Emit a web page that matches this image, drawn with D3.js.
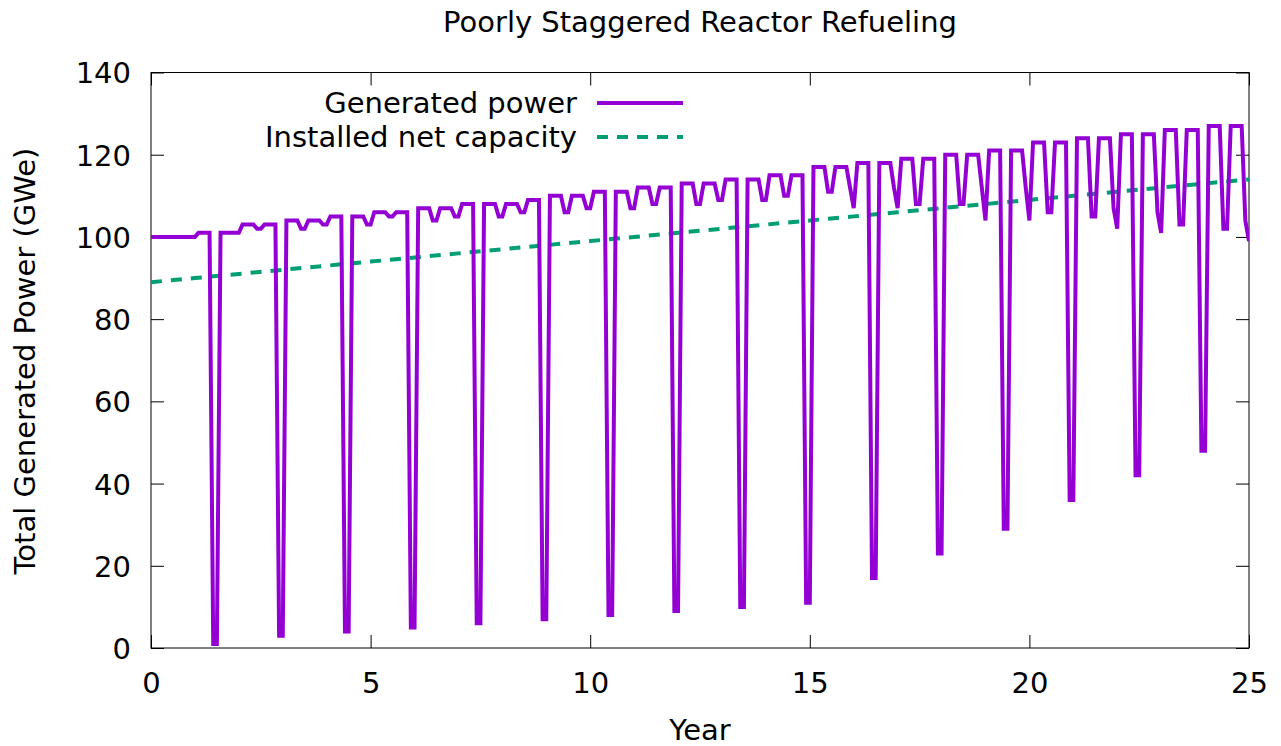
<!DOCTYPE html>
<html>
<head>
<meta charset="utf-8">
<script src="https://cdn.jsdelivr.net/npm/d3@7"></script>
<style>
  html, body { margin: 0; padding: 0; background: #fff; }
  text { font-family: "DejaVu Sans", sans-serif; fill: #000; }
</style>
</head>
<body>
<div id="chart"></div>
<script>
// Monthly generated power (GWe), month 0 .. 300 (25 years)
const generatedPower = [
    100, 100, 100, 100, 100, 100, 100, 100, 100, 100, 100, 100, 100, 101, 101, 101, 101, 1, 1,
    101, 101, 101, 101, 101, 101, 103, 103, 103, 103, 102, 102, 103, 103, 103, 103, 3, 3,
    104, 104, 104, 104, 102, 102, 104, 104, 104, 104, 103, 103, 105, 105, 105, 105, 4, 4,
    105, 105, 105, 105, 103, 103, 106, 106, 106, 106, 105, 105, 106, 106, 106, 106, 5, 5,
    107, 107, 107, 107, 104, 104, 107, 107, 107, 107, 105, 105, 108, 108, 108, 108, 6, 6,
    108, 108, 108, 108, 105, 105, 108, 108, 108, 108, 106, 106, 109, 109, 109, 109, 7, 7,
    110, 110, 110, 110, 106, 106, 110, 110, 110, 110, 107, 107, 111, 111, 111, 111, 8, 8,
    111, 111, 111, 111, 107, 107, 112, 112, 112, 112, 108, 108, 112, 112, 112, 112, 9, 9,
    113, 113, 113, 113, 108, 108, 113, 113, 113, 113, 109, 109, 114, 114, 114, 114, 10, 10,
    114, 114, 114, 114, 109, 109, 115, 115, 115, 115, 110, 110, 115, 115, 115, 115, 11, 11,
    117, 117, 117, 117, 111, 111, 117, 117, 117, 117, 112, 107, 118, 118, 118, 118, 17, 17,
    118, 118, 118, 118, 112, 107, 119, 119, 119, 119, 108, 108, 119, 119, 119, 119, 23, 23,
    120, 120, 120, 120, 108, 108, 120, 120, 120, 120, 112, 104, 121, 121, 121, 121, 29, 29,
    121, 121, 121, 121, 112, 104, 123, 123, 123, 123, 106, 106, 123, 123, 123, 123, 36, 36,
    124, 124, 124, 124, 105, 105, 124, 124, 124, 124, 107, 102, 125, 125, 125, 125, 42, 42,
    125, 125, 125, 125, 106, 101, 126, 126, 126, 126, 103, 103, 126, 126, 126, 126, 48, 48,
    127, 127, 127, 127, 102, 102, 127, 127, 127, 127, 104, 99
];

// Installed net capacity (GWe), one value per year 0 .. 25
const capacityYears = [0, 1, 2, 3, 4, 5, 6, 7, 8, 9, 10, 11, 12, 13, 14, 15, 16, 17, 18, 19, 20, 21, 22, 23, 24, 25];
const capacityValues = [89, 90, 91, 92, 93, 94, 95, 96, 97, 98, 99, 100, 101, 102, 103, 104, 105, 106, 107, 108, 109, 110, 111, 112, 113, 114];

const xTicks = [0, 5, 10, 15, 20, 25];
const yTicks = [0, 20, 40, 60, 80, 100, 120, 140];

const seriesNames = ["Generated power", "Installed net capacity"];
const seriesColors = ["#9400d3", "#009e73"];

const fontSize = "29px";

const width = 1281, height = 746,
    margin = {left: 151, top: 72.5, right: 32, bottom: 98};
const plotW = width - margin.left - margin.right,
    plotH = height - margin.top - margin.bottom;

const svg = d3.select("#chart").append("svg")
    .attr("width", width)
    .attr("height", height);

const xScale = d3.scaleLinear().domain([0, 25]).range([0, plotW]);
const yScale = d3.scaleLinear().domain([0, 140]).range([plotH, 0]);

const g = svg.append("g")
    .attr("transform", `translate(${margin.left},${margin.top})`);

// axes with inward ticks, mirrored on all four sides
function styleAxis(sel) {
    sel.select(".domain").remove();
    sel.selectAll(".tick line").attr("stroke", "#000").attr("stroke-width", 1);
    sel.selectAll(".tick text")
        .style("font-family", "'DejaVu Sans', sans-serif")
        .style("font-size", fontSize)
        .attr("fill", "#000");
}

g.append("g")
    .call(d3.axisLeft(yScale).tickValues(yTicks).tickSize(-13).tickPadding(20).tickFormat(d3.format("d")))
    .call(styleAxis)
    .selectAll(".tick text").attr("dy", "0.36em");

g.append("g")
    .attr("transform", `translate(${plotW},0)`)
    .call(d3.axisRight(yScale).tickValues(yTicks).tickSize(-13).tickFormat(""))
    .call(styleAxis);

g.append("g")
    .attr("transform", `translate(0,${plotH})`)
    .call(d3.axisBottom(xScale).tickValues(xTicks).tickSize(-13).tickPadding(24).tickFormat(d3.format("d")))
    .call(styleAxis);

g.append("g")
    .call(d3.axisTop(xScale).tickValues(xTicks).tickSize(-13).tickFormat(""))
    .call(styleAxis);

// frame
g.append("rect")
    .attr("x", 0).attr("y", 0)
    .attr("width", plotW).attr("height", plotH)
    .attr("fill", "none")
    .attr("stroke", "#000")
    .attr("stroke-width", 1);

// data lines
const clip = svg.append("defs").append("clipPath").attr("id", "plotclip");
clip.append("rect").attr("x", 0).attr("y", 0).attr("width", plotW).attr("height", plotH);

const lineGen = d3.line()
    .x(d => xScale(d[0]))
    .y(d => yScale(d[1]));

const powerData = generatedPower.map((v, i) => [i / 12, v]);
const capacityData = capacityYears.map((yr, i) => [yr, capacityValues[i]]);

const lines = g.append("g").attr("clip-path", "url(#plotclip)");

lines.append("path")
    .datum(capacityData)
    .attr("d", lineGen)
    .attr("fill", "none")
    .attr("stroke", seriesColors[1])
    .attr("stroke-width", 4)
    .attr("stroke-dasharray", "11,9");

lines.append("path")
    .datum(powerData)
    .attr("d", lineGen)
    .attr("fill", "none")
    .attr("stroke", seriesColors[0])
    .attr("stroke-width", 4)
    .attr("stroke-linejoin", "miter");

// legend
const legend = svg.append("g");
seriesNames.forEach((name, i) => {
    const ly = 103 + i * 34;
    legend.append("text")
        .attr("x", 577)
        .attr("y", ly)
        .attr("dy", "0.36em")
        .attr("text-anchor", "end")
        .style("font-size", fontSize)
        .text(name);
    legend.append("line")
        .attr("x1", 597).attr("x2", 683)
        .attr("y1", ly).attr("y2", ly)
        .attr("stroke", seriesColors[i])
        .attr("stroke-width", 4)
        .attr("stroke-dasharray", i === 1 ? "11,9" : null);
});

// titles
svg.append("text")
    .attr("x", 700).attr("y", 22)
    .attr("dy", "0.36em")
    .attr("text-anchor", "middle")
    .style("font-size", fontSize)
    .text("Poorly Staggered Reactor Refueling");

svg.append("text")
    .attr("x", 700).attr("y", 730)
    .attr("dy", "0.36em")
    .attr("text-anchor", "middle")
    .style("font-size", fontSize)
    .text("Year");

svg.append("text")
    .attr("transform", "translate(25,361) rotate(-90)")
    .attr("dy", "0.36em")
    .attr("text-anchor", "middle")
    .style("font-size", fontSize)
    .text("Total Generated Power (GWe)");
</script>
</body>
</html>
